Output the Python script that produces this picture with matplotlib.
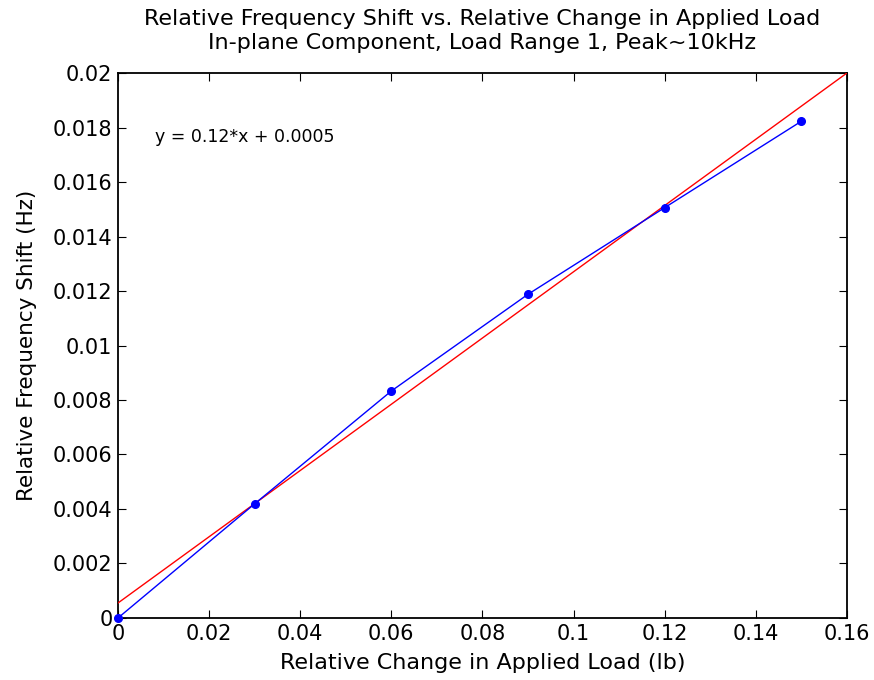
import matplotlib
matplotlib.use('Agg')
import matplotlib.pyplot as plt

# 数据
load_change = [0, 0.03, 0.06, 0.09, 0.12, 0.15]
freq_shift = [0.0, 0.00419, 0.00833, 0.01188, 0.01506, 0.01823]

# 拟合直线的两个端点
fit_x = [0, 0.16]
fit_y = [0.00055, 0.0200]

x_ticks = [0, 0.02, 0.04, 0.06, 0.08, 0.1, 0.12, 0.14, 0.16]
x_tick_labels = ['0', '0.02', '0.04', '0.06', '0.08', '0.1', '0.12', '0.14', '0.16']
y_ticks = [0, 0.002, 0.004, 0.006, 0.008, 0.01, 0.012, 0.014, 0.016, 0.018, 0.02]
y_tick_labels = ['0', '0.002', '0.004', '0.006', '0.008', '0.01', '0.012', '0.014', '0.016', '0.018', '0.02']

plt.rcParams['font.family'] = ['DejaVu Sans']

fig = plt.figure(figsize=(8.74, 6.8), dpi=100)
ax = fig.add_axes([0.135, 0.0912, 0.834, 0.8014])

ax.plot(load_change, freq_shift, color='blue', linewidth=1, marker='o', markersize=5.5, clip_on=False, zorder=4)
ax.plot(fit_x, fit_y, color='red', linewidth=1, zorder=3)

ax.text(0.0081, 0.01765, 'y = 0.12*x + 0.0005', fontsize=12.5, va='center', ha='left')

ax.set_title('Relative Frequency Shift vs. Relative Change in Applied Load\n'
             'In-plane Component, Load Range 1, Peak~10kHz', fontsize=16, pad=17, linespacing=1.3)
ax.set_xlabel('Relative Change in Applied Load (lb)', fontsize=16, labelpad=7)
ax.set_ylabel('Relative Frequency Shift (Hz)', fontsize=15.5, labelpad=11)

ax.set_xlim(0, 0.16)
ax.set_ylim(0, 0.02)
ax.set_xticks(x_ticks)
ax.set_xticklabels(x_tick_labels)
ax.set_yticks(y_ticks)
ax.set_yticklabels(y_tick_labels)
ax.tick_params(axis='both', direction='in', top=True, right=True, labelsize=15, length=5.5, pad=4)

for s in ax.spines.values():
    s.set_linewidth(1.3)

plt.savefig('out.png', dpi=100)
